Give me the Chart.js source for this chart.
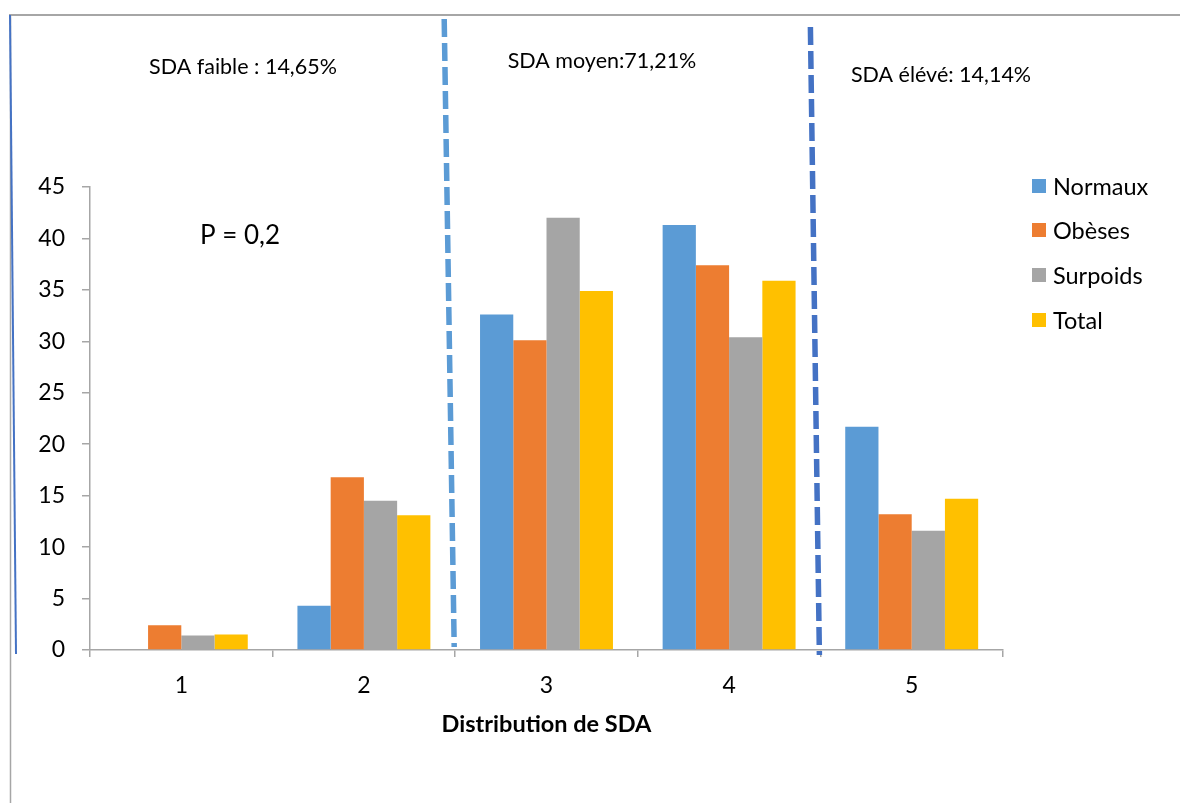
<!DOCTYPE html>
<html>
<head>
<meta charset="utf-8">
<script src="https://cdn.jsdelivr.net/npm/chart.js@4.4.1/dist/chart.umd.min.js"></script>
<style>
  html, body { margin: 0; padding: 0; background: #ffffff; }
  #wrap { width: 1180px; height: 803px; position: relative; }
</style>
</head>
<body>
<div id="wrap"><canvas id="c" width="1180" height="803"></canvas></div>
<script>
// Distribution de SDA par groupe (%)
const categories = ['1', '2', '3', '4', '5'];
const normaux   = [0, 4.3, 32.6, 41.3, 21.7];
const obeses    = [2.4, 16.8, 30.1, 37.4, 13.2];
const surpoids  = [1.4, 14.5, 42.0, 30.4, 11.6];
const total     = [1.5, 13.1, 34.9, 35.9, 14.7];
const seriesNames = ['Normaux', 'Obèses', 'Surpoids', 'Total'];
const yTicks = [0, 5, 10, 15, 20, 25, 30, 35, 40, 45];

const groupNotes = ['SDA faible : 14,65%', 'SDA moyen:71,21%', 'SDA élévé: 14,14%'];
const pNote = 'P = 0,2';

const colors = ['#5B9BD5', '#ED7D31', '#A5A5A5', '#FFC000'];
const FONT = 'Lato, "Open Sans", "Noto Sans", sans-serif';

// Frame lines around the figure
const framePlugin = {
  id: 'frame',
  beforeDraw(chart) {
    const ctx = chart.ctx;
    ctx.save();
    ctx.strokeStyle = '#A6A6A6';
    ctx.lineWidth = 2;
    ctx.beginPath();
    ctx.moveTo(9, 15); ctx.lineTo(1180, 15);
    ctx.stroke();
    ctx.lineWidth = 1.5;
    ctx.beginPath();
    ctx.moveTo(10.5, 15); ctx.lineTo(10.5, 803);
    ctx.stroke();
    ctx.strokeStyle = '#4472C4';
    ctx.lineWidth = 2;
    ctx.beginPath();
    ctx.moveTo(10, 15); ctx.lineTo(16, 654);
    ctx.stroke();
    ctx.restore();
  }
};

// Dashed separators between SDA groups, notes and legend
const notesPlugin = {
  id: 'notes',
  afterDraw(chart) {
    const ctx = chart.ctx;
    const x = chart.scales.x;
    const boundary = (i) => (x.getPixelForValue(i) + x.getPixelForValue(i + 1)) / 2;
    ctx.save();
    ctx.lineWidth = 5.5;
    ctx.setLineDash([18, 6]);
    // between groups 2 and 3
    let bx = boundary(1);
    ctx.strokeStyle = '#5B9BD5';
    ctx.beginPath();
    ctx.moveTo(bx - 11, 19); ctx.lineTo(bx - 1, 647);
    ctx.stroke();
    // between groups 4 and 5
    bx = boundary(3);
    ctx.strokeStyle = '#4472C4';
    ctx.beginPath();
    ctx.moveTo(bx - 10, 27); ctx.lineTo(bx - 1, 655);
    ctx.stroke();
    ctx.setLineDash([]);

    ctx.fillStyle = '#000000';
    ctx.textAlign = 'center';
    ctx.textBaseline = 'middle';
    ctx.font = '21.5px ' + FONT;
    ctx.fillText(groupNotes[0], 243, 67);
    ctx.fillText(groupNotes[1], 602, 61);
    ctx.fillText(groupNotes[2], 941, 75);
    ctx.font = '26px ' + FONT;
    ctx.fillText(pNote, 240, 236);

    // legend
    const rows = [186, 230, 275, 320];
    ctx.textAlign = 'left';
    ctx.font = '23.5px ' + FONT;
    chart.data.datasets.forEach((ds, i) => {
      ctx.fillStyle = ds.backgroundColor;
      ctx.fillRect(1032, rows[i] - 7, 14, 14);
      ctx.fillStyle = '#000000';
      ctx.fillText(ds.label, 1053, rows[i] + 1);
    });
    ctx.restore();
  }
};

new Chart(document.getElementById('c'), {
  type: 'bar',
  data: {
    labels: categories,
    datasets: [
      { label: seriesNames[0], data: normaux,  backgroundColor: colors[0] },
      { label: seriesNames[1], data: obeses,   backgroundColor: colors[1] },
      { label: seriesNames[2], data: surpoids, backgroundColor: colors[2] },
      { label: seriesNames[3], data: total,    backgroundColor: colors[3] }
    ]
  },
  options: {
    responsive: false,
    animation: false,
    devicePixelRatio: 1,
    layout: { padding: { left: 0, right: 177, top: 187, bottom: 64 } },
    datasets: { bar: { categoryPercentage: 0.728, barPercentage: 1.0, borderWidth: 0 } },
    plugins: { legend: { display: false }, tooltip: { enabled: false } },
    scales: {
      x: {
        afterFit(s) { s.height = 89; },
        grid: { display: true, drawOnChartArea: false, drawTicks: true, tickLength: 7, color: '#A6A6A6', lineWidth: 1.5 },
        border: { display: true, color: '#A6A6A6', width: 1.5 },
        ticks: { color: '#000000', font: { family: FONT, size: 23 }, padding: 15 },
        title: { display: true, text: 'Distribution de SDA', color: '#000000', font: { family: FONT, size: 23.5, weight: 'bold' }, padding: 0 }
      },
      y: {
        min: 0, max: 45,
        afterFit(s) { s.width = 90; },
        afterBuildTicks(s) { s.ticks = yTicks.map(v => ({ value: v })); },
        grid: { display: true, drawOnChartArea: false, drawTicks: true, tickLength: 8, color: '#A6A6A6', lineWidth: 1.5 },
        border: { display: true, color: '#A6A6A6', width: 1.5 },
        ticks: { color: '#000000', font: { family: FONT, size: 23 }, padding: 17 }
      }
    }
  },
  plugins: [framePlugin, notesPlugin]
});
</script>
</body>
</html>
